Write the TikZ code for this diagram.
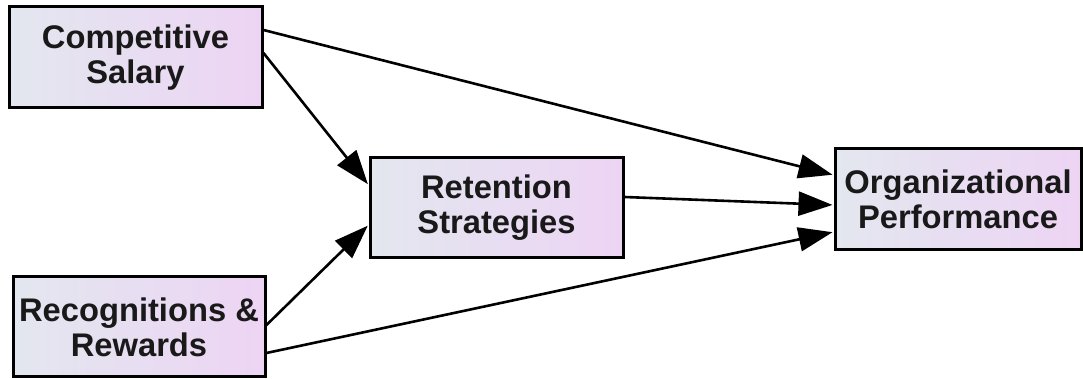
\documentclass[tikz,border=0pt]{standalone}
\usepackage{fontspec}
\setmainfont{Liberation Sans}
\usetikzlibrary{arrows.meta,calc}
\definecolor{boxleft}{HTML}{E3E7EF}
\definecolor{boxright}{HTML}{EDD4F4}
\tikzset{
  box/.style={draw=black, line width=3pt, left color=boxleft, right color=boxright,
    align=center, inner sep=0pt, font=\fontsize{32.7}{35}\selectfont\bfseries, text=black!90},
  conn/.style={line width=2.6pt, -{Triangle[length=34pt,width=24pt]}, shorten >=1pt}
}
\begin{document}
\begin{tikzpicture}[x=1pt,y=1pt]
\useasboundingbox (0,0) rectangle (1083,379);
\node[box, minimum width=253pt, minimum height=101pt] (cs) at (135.5,321.5) {Competitive\\Salary};
\node[box, minimum width=253pt, minimum height=100pt] (rs) at (496.5,171) {Retention\\Strategies};
\node[box, minimum width=246pt, minimum height=101pt] (op) at (958,179.5) {Organizational\\Performance};
\node[box, minimum width=252pt, minimum height=100pt] (rr) at (139,52) {Recognitions \&\\Rewards};
\draw[conn] ($(cs.east)+(0,27.5)$) -- ($(op.west)+(0,24.5)$);
\draw[conn] ($(cs.east)+(0,4.5)$) -- ($(rs.west)+(0,23)$);
\draw[conn] ($(rr.east)+(0,2)$) -- ($(rs.west)+(0,-17)$);
\draw[conn] ($(rr.east)+(0,-26)$) -- ($(op.west)+(0,-32.5)$);
\draw[conn] ($(rs.east)+(0,11)$) -- ($(op.west)+(0,-5.5)$);
\end{tikzpicture}
\end{document}
